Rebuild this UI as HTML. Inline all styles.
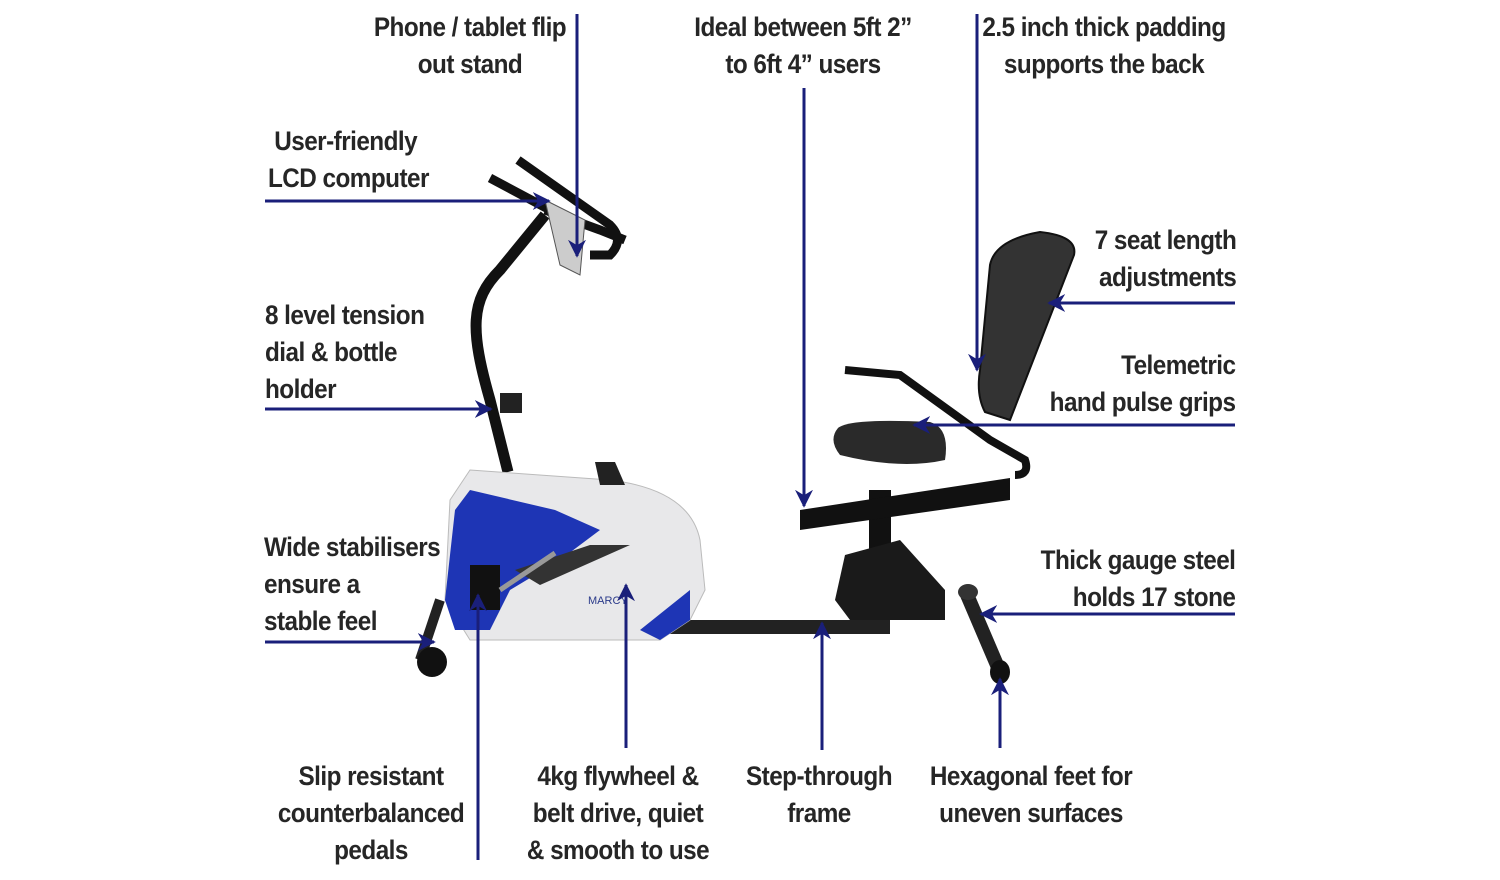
<!DOCTYPE html>
<html><head><meta charset="utf-8"><style>
body{margin:0;width:1500px;height:880px;background:#fff;overflow:hidden;position:relative;font-family:"Liberation Sans",sans-serif;}
.t{position:absolute;font-weight:bold;font-size:27px;color:#262626;line-height:37px;letter-spacing:-0.6px;white-space:nowrap;transform:scaleX(0.9);transform-origin:left top}
.c{text-align:center;transform-origin:center top}.r{text-align:right;transform-origin:right top}
svg{position:absolute;left:0;top:0}
</style></head><body>
<svg width="1500" height="880" viewBox="0 0 1500 880">
<defs><marker id="a" viewBox="0 0 10 10" refX="9" refY="5" markerWidth="6" markerHeight="6" orient="auto"><path d="M0,0 L10,5 L0,10 L3,5z" fill="#1a1f7a"/></marker></defs>
<g>
<rect x="640" y="620" width="250" height="14" fill="#222"/>
<path d="M440,600 L420,660" stroke="#222" stroke-width="10"/>
<ellipse cx="432" cy="662" rx="15" ry="15" fill="#111"/>
<path d="M965,590 L1000,672" stroke="#222" stroke-width="14"/>
<ellipse cx="968" cy="592" rx="10" ry="8" fill="#333"/>
<ellipse cx="1000" cy="672" rx="10" ry="12" fill="#111"/>
<path d="M508,472 L490,400 C470,330 470,300 500,270 L545,215" stroke="#111" stroke-width="11" fill="none"/>
<path d="M545,210 L600,230 L625,240" stroke="#111" stroke-width="9" fill="none"/>
<path d="M518,160 L610,225 Q625,240 610,255 L590,255" stroke="#111" stroke-width="9" fill="none"/>
<path d="M490,178 L550,210" stroke="#111" stroke-width="9"/>
<path d="M545,200 L585,220 L580,275 L560,265z" fill="#ccc" stroke="#555"/>
<rect x="500" y="393" width="22" height="20" fill="#222"/>
<path d="M470,470 L610,480 Q690,490 700,540 L705,590 L690,620 L660,640 L470,640 L445,600 L450,500z" fill="#e8e8ea" stroke="#bbb"/>
<path d="M470,490 L555,510 L600,530 L560,560 L510,590 L490,630 L455,630 L445,600 L455,510z" fill="#1e35b5"/>
<path d="M660,640 L690,620 L690,590 L640,630z" fill="#1e35b5"/>
<path d="M515,570 L590,545 L630,545 L540,585z" fill="#333"/>
<path d="M595,462 L615,462 L625,485 L600,485z" fill="#222"/>
<text x="588" y="604" font-size="11" fill="#2a3a8a" font-family="Liberation Sans">MARCY</text>
<rect x="470" y="565" width="30" height="45" fill="#111"/>
<path d="M500,590 L555,553" stroke="#999" stroke-width="5"/>
<path d="M880,490 L880,560" stroke="#111" stroke-width="22"/>
<path d="M845,555 L900,540 L945,590 L945,620 L850,620 L835,600z" fill="#1a1a1a"/>
<path d="M800,510 L1010,478 L1010,500 L800,530z" fill="#111"/>
<path d="M838,428 Q850,418 930,422 Q950,428 945,460 Q900,470 840,455 Q828,440 838,428z" fill="#2a2a2a"/>
<path d="M1040,232 Q1078,236 1074,255 L1010,420 L985,412 Q976,395 980,370 L990,265 Q995,240 1040,232z" fill="#333" stroke="#111" stroke-width="2"/>
<path d="M845,370 L900,375 L990,440 L1025,460 Q1030,475 1015,475" stroke="#111" stroke-width="8" fill="none"/>
</g>
<g stroke="#1a1f7a" stroke-width="3" fill="none" marker-end="url(#a)">
<line x1="577" y1="14" x2="577" y2="256"/>
<line x1="804" y1="88" x2="804" y2="506"/>
<line x1="977" y1="14" x2="977" y2="370"/>
<line x1="265" y1="201" x2="549" y2="201"/>
<line x1="265" y1="409" x2="491" y2="409"/>
<line x1="1235" y1="303" x2="1049" y2="303"/>
<line x1="1235" y1="425" x2="914" y2="425"/>
<line x1="265" y1="642" x2="434" y2="642"/>
<line x1="1235" y1="614" x2="981" y2="614"/>
<line x1="478" y1="860" x2="478" y2="595"/>
<line x1="626" y1="748" x2="626" y2="585"/>
<line x1="822" y1="750" x2="822" y2="623"/>
<line x1="1000" y1="748" x2="1000" y2="679"/>
</g>
</svg>
<div class="t c" style="left:350px;top:9px;width:240px">Phone / tablet flip<br>out stand</div>
<div class="t c" style="left:663px;top:9px;width:280px">Ideal between 5ft 2”<br>to 6ft 4” users</div>
<div class="t c" style="left:954px;top:9px;width:300px">2.5 inch thick padding<br>supports the back</div>
<div class="t" style="left:268px;top:123px">&nbsp;User-friendly<br>LCD computer</div>
<div class="t" style="left:265px;top:297px">8 level tension<br>dial &amp; bottle<br>holder</div>
<div class="t r" style="right:264px;top:222px">7 seat length<br>adjustments</div>
<div class="t r" style="right:265px;top:347px">Telemetric<br>hand pulse grips</div>
<div class="t" style="left:264px;top:529px">Wide stabilisers<br>ensure a<br>stable feel</div>
<div class="t r" style="right:265px;top:542px">Thick gauge steel<br>holds 17 stone</div>
<div class="t c" style="left:241px;top:758px;width:260px">Slip resistant<br>counterbalanced<br>pedals</div>
<div class="t c" style="left:488px;top:758px;width:260px">4kg flywheel &amp;<br>belt drive, quiet<br>&amp; smooth to use</div>
<div class="t c" style="left:719px;top:758px;width:200px">Step-through<br>frame</div>
<div class="t c" style="left:891px;top:758px;width:280px">Hexagonal feet for<br>uneven surfaces</div>
</body></html>
